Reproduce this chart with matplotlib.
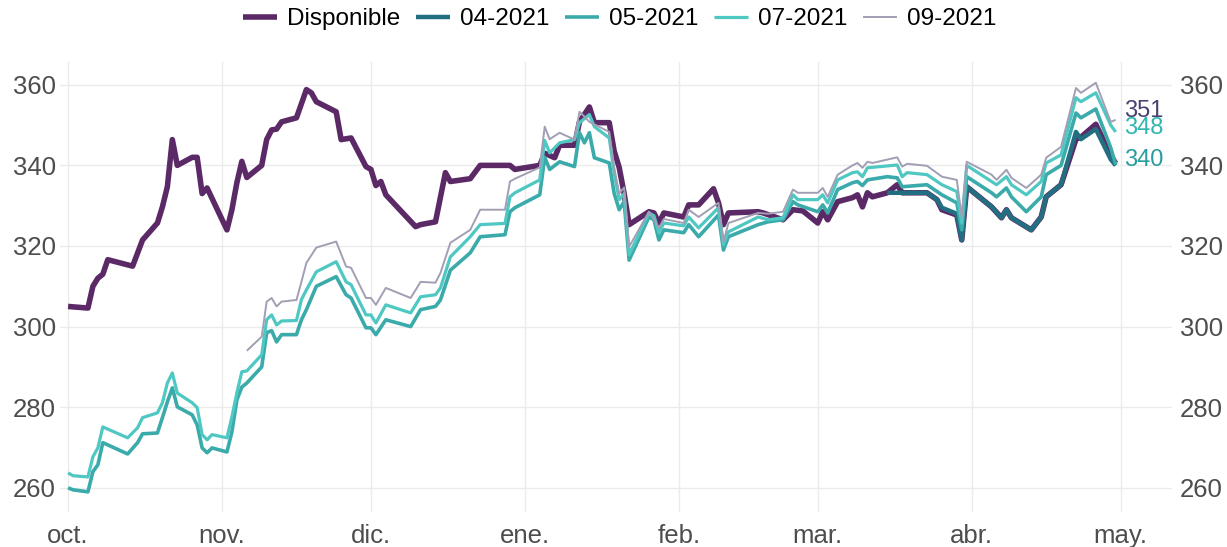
import matplotlib.pyplot as plt
import pandas as pd

# ---- data ----
disp_dates = ["2020-10-01", "2020-10-05", "2020-10-06", "2020-10-07", "2020-10-08", "2020-10-09",
              "2020-10-14", "2020-10-16", "2020-10-19", "2020-10-20", "2020-10-21", "2020-10-22",
              "2020-10-23", "2020-10-26", "2020-10-27", "2020-10-28", "2020-10-29", "2020-11-02",
              "2020-11-03", "2020-11-04", "2020-11-05", "2020-11-06", "2020-11-09", "2020-11-10",
              "2020-11-11", "2020-11-12", "2020-11-13", "2020-11-16", "2020-11-18", "2020-11-19",
              "2020-11-20", "2020-11-24", "2020-11-25", "2020-11-27", "2020-11-30", "2020-12-01",
              "2020-12-02", "2020-12-03", "2020-12-04", "2020-12-10", "2020-12-11", "2020-12-14",
              "2020-12-16", "2020-12-17", "2020-12-21", "2020-12-23", "2020-12-29", "2020-12-30",
              "2021-01-04", "2021-01-05", "2021-01-07", "2021-01-08", "2021-01-11", "2021-01-12",
              "2021-01-14", "2021-01-15", "2021-01-18", "2021-01-19", "2021-01-20", "2021-01-21",
              "2021-01-22", "2021-01-26", "2021-01-27", "2021-01-28", "2021-01-29", "2021-02-02",
              "2021-02-03", "2021-02-05", "2021-02-08", "2021-02-09", "2021-02-10", "2021-02-11",
              "2021-02-17", "2021-02-18", "2021-02-22", "2021-02-24", "2021-02-26", "2021-03-01",
              "2021-03-02", "2021-03-03", "2021-03-05", "2021-03-08", "2021-03-09", "2021-03-10",
              "2021-03-11", "2021-03-12", "2021-03-15", "2021-03-17", "2021-03-18", "2021-03-23",
              "2021-03-25", "2021-03-26", "2021-03-29", "2021-03-30", "2021-03-31", "2021-04-05",
              "2021-04-07", "2021-04-08", "2021-04-09", "2021-04-13", "2021-04-15", "2021-04-16",
              "2021-04-19", "2021-04-22", "2021-04-23", "2021-04-26", "2021-04-29", "2021-04-30"]
disp_vals = [305, 304.6, 310, 312, 313, 316.6,
             315, 321.5, 325.7, 329.7, 334.7, 346.4,
             340, 342, 342, 333, 334.4, 324,
             329, 335.7, 341, 337, 340, 346.4,
             348.8, 349, 350.8, 351.8, 358.8, 358,
             355.8, 353.3, 346.4, 346.8, 339.7, 339,
             335, 336, 332.7, 324.8, 325.3, 326,
             338.2, 336, 336.7, 340, 340, 339,
             340, 343, 341.9, 345, 345, 350.8,
             354.5, 350.6, 350.6, 343.5, 339.5, 333,
             325.3, 328.5, 328.2, 325.7, 328.2, 327.2,
             330.2, 330.2, 334.2, 330.7, 325.3, 328.2,
             328.5, 328.2, 326.5, 329, 328.7, 325.7,
             328.5, 326.5, 331, 332, 332.7, 329.7,
             333.2, 332.2, 333.2, 335.2, 333.2, 333.2,
             331.5, 329, 327.7, 321.5, 334.7, 329.7,
             327, 329, 327, 324, 327.2, 332.2,
             335.2, 346.5, 347, 350.2, 342.5, 340.5]

m04_dates = ["2021-03-15", "2021-03-17", "2021-03-18", "2021-03-23", "2021-03-25", "2021-03-26",
             "2021-03-29", "2021-03-30", "2021-03-31", "2021-04-05", "2021-04-07", "2021-04-08",
             "2021-04-09", "2021-04-13", "2021-04-15", "2021-04-16", "2021-04-19", "2021-04-22",
             "2021-04-23", "2021-04-26", "2021-04-29", "2021-04-30"]
m04_vals = [333.2, 333.2, 333.2, 333.2, 331.5, 329.5,
            328, 321.5, 334.7, 329.7, 327, 329,
            327, 324, 327.2, 332.2, 335.2, 348.3,
            346.5, 349, 341.5, 340]

m05_dates = ["2020-10-01", "2020-10-02", "2020-10-05", "2020-10-06", "2020-10-07", "2020-10-08",
             "2020-10-13", "2020-10-15", "2020-10-16", "2020-10-19", "2020-10-20", "2020-10-21",
             "2020-10-22", "2020-10-23", "2020-10-26", "2020-10-27", "2020-10-28", "2020-10-29",
             "2020-10-30", "2020-11-02", "2020-11-03", "2020-11-04", "2020-11-05", "2020-11-06",
             "2020-11-09", "2020-11-10", "2020-11-11", "2020-11-12", "2020-11-13", "2020-11-16",
             "2020-11-17", "2020-11-18", "2020-11-20", "2020-11-24", "2020-11-26", "2020-11-27",
             "2020-11-30", "2020-12-01", "2020-12-02", "2020-12-04", "2020-12-09", "2020-12-11",
             "2020-12-14", "2020-12-15", "2020-12-17", "2020-12-21", "2020-12-23", "2020-12-28",
             "2020-12-29", "2020-12-30", "2021-01-04", "2021-01-05", "2021-01-06", "2021-01-08",
             "2021-01-11", "2021-01-12", "2021-01-13", "2021-01-14", "2021-01-15", "2021-01-18",
             "2021-01-19", "2021-01-20", "2021-01-21", "2021-01-22", "2021-01-26", "2021-01-27",
             "2021-01-28", "2021-01-29", "2021-02-02", "2021-02-03", "2021-02-05", "2021-02-09",
             "2021-02-10", "2021-02-11", "2021-02-17", "2021-02-19", "2021-02-22", "2021-02-24",
             "2021-02-25", "2021-03-01", "2021-03-02", "2021-03-03", "2021-03-05", "2021-03-08",
             "2021-03-09", "2021-03-10", "2021-03-11", "2021-03-15", "2021-03-17", "2021-03-18",
             "2021-03-23", "2021-03-26", "2021-03-29", "2021-03-30", "2021-03-31", "2021-04-05",
             "2021-04-06", "2021-04-08", "2021-04-09", "2021-04-12", "2021-04-15", "2021-04-16",
             "2021-04-19", "2021-04-22", "2021-04-23", "2021-04-26", "2021-04-29", "2021-04-30"]
m05_vals = [260, 259.5, 259, 264, 265.7, 271.2,
            268.4, 271.2, 273.4, 273.6, 277.4, 281.3,
            284.8, 280.1, 278.1, 275.6, 269.9, 268.7,
            269.9, 268.9, 273.9, 281.8, 285, 286,
            290, 298.5, 299, 296.2, 298, 298,
            301.7, 304.2, 310, 312.4, 307.9, 307.1,
            299.7, 299.7, 298, 301.7, 300, 304.2,
            305, 306.6, 314, 318.3, 322.3, 322.8,
            328.5, 329.5, 332.7, 342, 339, 340.9,
            339.7, 348.1, 345.6, 348.1, 341.9, 340.6,
            333, 329, 331, 316.5, 327.2, 326.5,
            321.5, 324, 323.3, 325.3, 322.3, 327.7,
            319, 322.3, 325.3, 326, 326.5, 331,
            330.2, 328.5, 330.2, 328.2, 334, 335.7,
            336, 335, 336.4, 337.2, 336.9, 334.7,
            335.2, 332.7, 330.7, 324, 337.2, 333.2,
            332.2, 334.4, 332.2, 328.5, 332.2, 337.7,
            340, 353, 351.8, 354, 344.4, 340.2]

m07_dates = ["2020-10-01", "2020-10-02", "2020-10-05", "2020-10-06", "2020-10-07", "2020-10-08",
             "2020-10-13", "2020-10-15", "2020-10-16", "2020-10-19", "2020-10-20", "2020-10-21",
             "2020-10-22", "2020-10-23", "2020-10-26", "2020-10-27", "2020-10-28", "2020-10-29",
             "2020-10-30", "2020-11-02", "2020-11-03", "2020-11-04", "2020-11-05", "2020-11-06",
             "2020-11-09", "2020-11-10", "2020-11-11", "2020-11-12", "2020-11-13", "2020-11-16",
             "2020-11-17", "2020-11-18", "2020-11-20", "2020-11-24", "2020-11-26", "2020-11-27",
             "2020-11-30", "2020-12-01", "2020-12-02", "2020-12-04", "2020-12-09", "2020-12-11",
             "2020-12-14", "2020-12-15", "2020-12-17", "2020-12-21", "2020-12-23", "2020-12-28",
             "2020-12-29", "2020-12-30", "2021-01-04", "2021-01-05", "2021-01-06", "2021-01-08",
             "2021-01-11", "2021-01-12", "2021-01-14", "2021-01-15", "2021-01-18", "2021-01-19",
             "2021-01-20", "2021-01-21", "2021-01-22", "2021-01-26", "2021-01-27", "2021-01-28",
             "2021-01-29", "2021-02-02", "2021-02-03", "2021-02-05", "2021-02-09", "2021-02-10",
             "2021-02-11", "2021-02-17", "2021-02-19", "2021-02-22", "2021-02-24", "2021-02-25",
             "2021-03-01", "2021-03-02", "2021-03-03", "2021-03-05", "2021-03-08", "2021-03-09",
             "2021-03-10", "2021-03-11", "2021-03-17", "2021-03-18", "2021-03-19", "2021-03-23",
             "2021-03-26", "2021-03-29", "2021-03-30", "2021-03-31", "2021-04-05", "2021-04-06",
             "2021-04-08", "2021-04-09", "2021-04-12", "2021-04-15", "2021-04-16", "2021-04-19",
             "2021-04-22", "2021-04-23", "2021-04-26", "2021-04-29", "2021-04-30"]
m07_vals = [263.7, 263, 262.7, 267.7, 269.9, 275.1,
            272.4, 274.9, 277.4, 278.6, 281.1, 286,
            288.5, 283.5, 281.1, 279.9, 273.2, 271.9,
            273.2, 272.4, 277.6, 283.6, 288.8, 289,
            293, 301.7, 302.9, 300.4, 301.4, 301.5,
            306.7, 309.1, 313.6, 316.1, 311.1, 310.4,
            302.9, 302.9, 300.9, 305.4, 303.4, 307.4,
            307.9, 309.6, 317.3, 322.3, 325.3, 325.6,
            332.2, 333.2, 336.4, 346.2, 343.1, 345.6,
            346.4, 350.6, 352.6, 349.6, 346.8, 338,
            331.5, 333, 317.8, 328.2, 327.5, 323.3,
            325.7, 325, 327.2, 324.5, 329.5, 320.3,
            323.5, 327.2, 326.5, 327, 332.7, 331.5,
            331.5, 332.7, 330.7, 336.4, 338.2, 338.4,
            337.2, 339.4, 340.1, 337.2, 338.2, 337.7,
            335.2, 333.5, 325.7, 340, 336, 335.2,
            337.2, 335.2, 332.7, 336, 340.6, 342.6,
            356.8, 355.8, 358, 350, 348.3]

m09_dates = ["2020-11-06", "2020-11-09", "2020-11-10", "2020-11-11", "2020-11-12", "2020-11-13",
             "2020-11-16", "2020-11-17", "2020-11-18", "2020-11-20", "2020-11-24", "2020-11-26",
             "2020-11-27", "2020-11-30", "2020-12-01", "2020-12-02", "2020-12-04", "2020-12-09",
             "2020-12-11", "2020-12-14", "2020-12-15", "2020-12-17", "2020-12-21", "2020-12-23",
             "2020-12-28", "2020-12-29", "2020-12-30", "2021-01-04", "2021-01-05", "2021-01-06",
             "2021-01-08", "2021-01-11", "2021-01-12", "2021-01-13", "2021-01-14", "2021-01-18",
             "2021-01-19", "2021-01-20", "2021-01-21", "2021-01-22", "2021-01-26", "2021-01-28",
             "2021-01-29", "2021-02-02", "2021-02-03", "2021-02-05", "2021-02-09", "2021-02-10",
             "2021-02-11", "2021-02-17", "2021-02-19", "2021-02-22", "2021-02-24", "2021-02-25",
             "2021-03-01", "2021-03-02", "2021-03-03", "2021-03-05", "2021-03-08", "2021-03-09",
             "2021-03-10", "2021-03-11", "2021-03-12", "2021-03-17", "2021-03-18", "2021-03-19",
             "2021-03-23", "2021-03-26", "2021-03-29", "2021-03-30", "2021-03-31", "2021-04-05",
             "2021-04-06", "2021-04-08", "2021-04-09", "2021-04-12", "2021-04-15", "2021-04-16",
             "2021-04-19", "2021-04-22", "2021-04-23", "2021-04-26", "2021-04-29", "2021-04-30"]
m09_vals = [294, 297.5, 306.2, 307.1, 305, 306.2,
            306.6, 311.1, 315.8, 319.6, 321.1, 314.9,
            314.6, 307.1, 307.1, 305.4, 309.6, 307.1,
            311.1, 310.9, 313.3, 320.8, 324, 329,
            329, 336, 336.7, 339.5, 349.6, 346.5,
            348.1, 346.4, 353.3, 352.1, 350.8, 348.3,
            339.4, 333, 334.5, 319.8, 328.5, 324.5,
            326.7, 325.7, 329, 327.2, 330.7, 321,
            325.7, 328.2, 328, 328.5, 334, 333.2,
            333.2, 334.4, 332.2, 337.7, 340, 340.6,
            339.4, 340.9, 340.6, 342, 339.7, 340.4,
            339.9, 337.2, 336.4, 327.2, 340.9, 337.7,
            336.4, 338.9, 336.9, 334.4, 337.7, 341.9,
            344.6, 359.2, 358, 360.5, 350.8, 351.3]

month_ticks = ["2020-10-01", "2020-11-01", "2020-12-01", "2021-01-01",
               "2021-02-01", "2021-03-01", "2021-04-01", "2021-05-01"]
month_labels = ["oct.", "nov.", "dic.", "ene.", "feb.", "mar.", "abr.", "may."]
y_ticks = [260, 280, 300, 320, 340, 360]

plt.rcParams['font.family'] = ['Liberation Sans', 'DejaVu Sans']

fig = plt.figure(figsize=(12.27, 5.47), dpi=100)
ax = fig.add_axes([0.049, 0.064, 0.906, 0.823])

series = [
    ("Disponible", disp_dates, disp_vals, "#5b2a66", 4.0),
    ("04-2021", m04_dates, m04_vals, "#226f82", 3.2),
    ("05-2021", m05_dates, m05_vals, "#3aabaa", 2.6),
    ("07-2021", m07_dates, m07_vals, "#4fc7c2", 2.3),
    ("09-2021", m09_dates, m09_vals, "#a29eb4", 1.4),
]
for name, d, v, c, lw in series:
    ax.plot(pd.to_datetime(d), v, color=c, lw=lw, label=name,
            solid_joinstyle='round', solid_capstyle='butt')

# end labels
end_labels = [
    (m09_dates, m09_vals, "#474070", 6.5),
    (m07_dates, m07_vals, "#2fb6b1", 3.0),
    (m05_dates, m05_vals, "#2a9c9e", 3.5),
]
for d, v, c, dy in end_labels:
    ax.annotate(f"{round(v[-1])}", xy=(pd.Timestamp(d[-1]), v[-1]), xytext=(6, dy),
                textcoords='offset points', ha='left', va='center', fontsize=17, color=c)

start = pd.Timestamp("2020-10-01")
ax.set_xlim(start - pd.Timedelta(days=1.6), start + pd.Timedelta(days=222.3))
ax.set_ylim(254.0, 365.7)
ax.set_xticks(pd.to_datetime(month_ticks))
ax.set_xticklabels(month_labels)
ax.set_yticks(y_ticks)

ax.grid(True, color="#ebebeb", lw=1.0)
ax.set_axisbelow(True)
for s in ax.spines.values():
    s.set_visible(False)
ax.tick_params(axis='x', length=0, pad=9, labelsize=18.5, labelcolor="#4d4d4d")
ax.tick_params(axis='y', length=0, pad=3, labelsize=18.5, labelcolor="#4d4d4d")

# duplicate y axis on the right
ax2 = ax.twinx()
ax2.set_ylim(ax.get_ylim())
ax2.set_yticks(y_ticks)
for s in ax2.spines.values():
    s.set_visible(False)
ax2.tick_params(axis='y', length=0, pad=6, labelsize=18.5, labelcolor="#4d4d4d")

fig.legend(loc='upper center', bbox_to_anchor=(0.505, 1.025), ncol=5, frameon=False,
           fontsize=17.5, handlelength=1.4, handletextpad=0.4, columnspacing=0.65)

fig.savefig("out.png", dpi=100)
